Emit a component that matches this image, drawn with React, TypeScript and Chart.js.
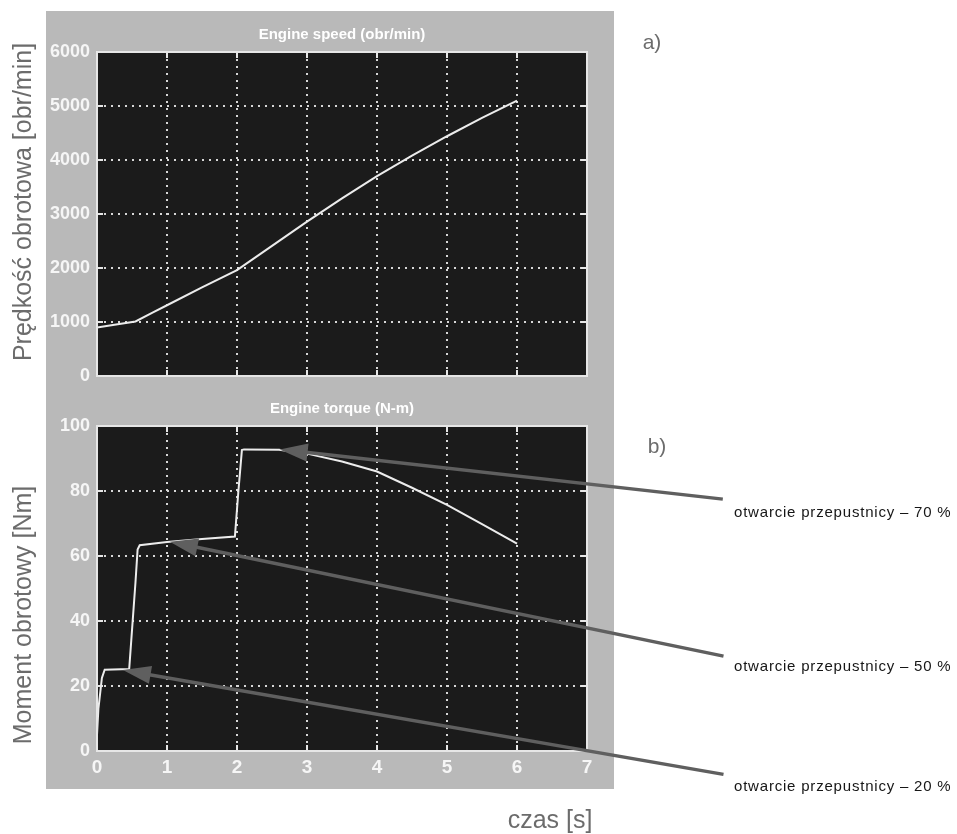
import React, { useEffect, useRef } from 'react';
import { Chart, registerables } from 'chart.js';

Chart.register(...registerables);

// ---- data ----
const speedTime = [0, 0.25, 0.55, 0.8, 1, 1.5, 2, 2.5, 3, 3.5, 4, 4.5, 5, 5.5, 6];
const speedRpm = [900, 950, 1010, 1180, 1310, 1640, 1960, 2410, 2860, 3290, 3700, 4080, 4440, 4780, 5100];

const torqueTime = [0, 0.02, 0.07, 0.11, 0.46, 0.55, 0.58, 0.61, 1, 1.5, 1.97, 2.02, 2.07, 2.1, 2.6, 3, 3.5, 4, 4.5, 5, 5.5, 6];
const torqueNm = [5, 13, 22.5, 25, 25.2, 52, 62, 63.3, 64.3, 65.2, 66, 80, 92.6, 92.8, 92.7, 91.5, 89.1, 86, 81, 75.7, 69.8, 63.8];

const timeTicks = [0, 1, 2, 3, 4, 5, 6, 7];
const speedTicks = [0, 1000, 2000, 3000, 4000, 5000, 6000];
const torqueTicks = [0, 20, 40, 60, 80, 100];

const speedTitle = 'Engine speed (obr/min)';
const torqueTitle = 'Engine torque (N-m)';
const speedAxisTitle = 'Prędkość obrotowa [obr/min]';
const torqueAxisTitle = 'Moment obrotowy [Nm]';
const timeAxisTitle = 'czas [s]';

const arrowLabels = ['otwarcie przepustnicy – 70 %', 'otwarcie przepustnicy – 50 %', 'otwarcie przepustnicy – 20 %'];
// arrow tips / tails in data units (time, torque)
const arrowTipX = [2.61, 1.04, 0.37];
const arrowTipY = [92.8, 64.4, 24.9];
const arrowTailX = [8.94, 8.95, 8.95];
const arrowTailY = [77.5, 29.2, -7.2];

// ---- styles ----
const FONT = "'Liberation Sans', Arial, sans-serif";
const PANEL = '#b9b9b9';
const PLOT_BG = '#1b1b1b';
const GRID = '#d8d8d8';
const LINE = '#ececec';
const FRAME = '#e6e6e6';
const ARROW = '#5f5f5f';
const GREY_TEXT = '#6c6c6c';

Chart.defaults.font.family = FONT;

const panelPlugin = {
  id: 'panel',
  beforeDraw(chart: any) {
    const { ctx } = chart;
    ctx.save();
    ctx.fillStyle = PANEL;
    ctx.fillRect(46, 11, 568, 778);
    ctx.restore();
  },
};

const framePlugin = {
  id: 'frame',
  beforeDraw(chart: any) {
    const { ctx, chartArea: a } = chart;
    ctx.save();
    ctx.fillStyle = PLOT_BG;
    ctx.fillRect(a.left, a.top, a.right - a.left, a.bottom - a.top);
    ctx.restore();
  },
  afterDraw(chart: any) {
    const { ctx, chartArea: a, scales } = chart;
    ctx.save();
    ctx.strokeStyle = FRAME;
    ctx.lineWidth = 2;
    ctx.strokeRect(a.left, a.top, a.right - a.left, a.bottom - a.top);
    const tl = 6;
    ctx.beginPath();
    scales.x.ticks.forEach((t: any) => {
      const px = scales.x.getPixelForValue(t.value);
      ctx.moveTo(px, a.bottom);
      ctx.lineTo(px, a.bottom - tl);
      ctx.moveTo(px, a.top);
      ctx.lineTo(px, a.top + tl);
    });
    scales.y.ticks.forEach((t: any) => {
      const py = scales.y.getPixelForValue(t.value);
      ctx.moveTo(a.left, py);
      ctx.lineTo(a.left + tl, py);
      ctx.moveTo(a.right, py);
      ctx.lineTo(a.right - tl, py);
    });
    ctx.stroke();
    ctx.restore();
  },
};

function textPlugin(items: { text: string; x: number; y: number; size: number; color: string; rot?: boolean; align?: string; spacing?: number }[]) {
  return {
    id: 'texts',
    afterDraw(chart: any) {
      const { ctx } = chart;
      items.forEach((it) => {
        ctx.save();
        ctx.font = `${it.size}px ${FONT}`;
        ctx.fillStyle = it.color;
        ctx.textBaseline = 'middle';
        ctx.textAlign = (it.align as CanvasTextAlign) || 'center';
        if (it.spacing) (ctx as any).letterSpacing = `${it.spacing}px`;
        ctx.translate(it.x, it.y);
        if (it.rot) ctx.rotate(-Math.PI / 2);
        ctx.fillText(it.text, 0, 0);
        ctx.restore();
      });
    },
  };
}

const arrowPlugin = {
  id: 'arrows',
  afterDraw(chart: any) {
    const { ctx, scales } = chart;
    ctx.save();
    ctx.strokeStyle = ARROW;
    ctx.fillStyle = ARROW;
    ctx.lineWidth = 3.5;
    for (let i = 0; i < arrowTipX.length; i++) {
      const px = scales.x.getPixelForValue(arrowTipX[i]);
      const py = scales.y.getPixelForValue(arrowTipY[i]);
      const qx = scales.x.getPixelForValue(arrowTailX[i]);
      const qy = scales.y.getPixelForValue(arrowTailY[i]);
      const dx = px - qx;
      const dy = py - qy;
      const len = Math.hypot(dx, dy);
      const ux = dx / len;
      const uy = dy / len;
      const L = 28;
      const W = 9;
      const bx = px - ux * L;
      const by = py - uy * L;
      ctx.beginPath();
      ctx.moveTo(qx, qy);
      ctx.lineTo(bx + ux * 4, by + uy * 4);
      ctx.stroke();
      ctx.beginPath();
      ctx.moveTo(px, py);
      ctx.lineTo(bx - uy * W, by + ux * W);
      ctx.lineTo(bx + uy * W, by - ux * W);
      ctx.closePath();
      ctx.fill();
    }
    ctx.restore();
  },
};

function makeScales(yTicks: number[], yMax: number, showX: boolean) {
  return {
    x: {
      type: 'linear' as const,
      min: 0,
      max: 7,
      afterBuildTicks: (s: any) => {
        s.ticks = timeTicks.map((v) => ({ value: v }));
      },
      afterFit: (s: any) => {
        s.height = showX ? 40 : 0;
      },
      ticks: {
        display: showX,
        autoSkip: false,
        maxRotation: 0,
        color: '#f6f6f6',
        padding: 5,
        font: { size: 19, weight: 'bold' as const },
        callback: (v: any) => String(v),
      },
      grid: { color: GRID, lineWidth: 2, drawTicks: false },
      border: { display: false, dash: [2, 5] },
    },
    y: {
      type: 'linear' as const,
      min: 0,
      max: yMax,
      afterBuildTicks: (s: any) => {
        s.ticks = yTicks.map((v) => ({ value: v }));
      },
      afterFit: (s: any) => {
        s.width = 97;
      },
      ticks: {
        autoSkip: false,
        color: '#f6f6f6',
        padding: 7,
        font: { size: 18, weight: 'bold' as const },
        callback: (v: any) => String(v),
      },
      grid: { color: GRID, lineWidth: 2, drawTicks: false },
      border: { display: false, dash: [2, 5] },
    },
  };
}

export default function App() {
  const topRef = useRef<HTMLCanvasElement>(null);
  const botRef = useRef<HTMLCanvasElement>(null);

  useEffect(() => {
    const top = new Chart(topRef.current!, {
      type: 'line',
      data: {
        datasets: [
          {
            data: speedTime.map((t, i) => ({ x: t, y: speedRpm[i] })),
            borderColor: LINE,
            borderWidth: 2,
            pointRadius: 0,
            tension: 0,
          },
        ],
      },
      options: {
        responsive: false,
        animation: false,
        events: [],
        layout: { padding: { left: 0, right: 370, top: 0, bottom: 458 } },
        plugins: {
          legend: { display: false },
          tooltip: { enabled: false },
          title: {
            display: true,
            text: speedTitle,
            color: '#ffffff',
            fullSize: false,
            font: { size: 15, weight: 'bold' },
            padding: { top: 26, bottom: 8 },
          },
        },
        scales: makeScales(speedTicks, 6000, false) as any,
      },
      plugins: [
        panelPlugin,
        framePlugin,
        textPlugin([
          { text: speedAxisTitle, x: 24, y: 202, size: 25, color: GREY_TEXT, rot: true },
          { text: 'a)', x: 652, y: 43, size: 21, color: GREY_TEXT },
        ]),
      ],
    });

    const bot = new Chart(botRef.current!, {
      type: 'line',
      data: {
        datasets: [
          {
            data: torqueTime.map((t, i) => ({ x: t, y: torqueNm[i] })),
            borderColor: LINE,
            borderWidth: 2,
            pointRadius: 0,
            tension: 0,
          },
        ],
      },
      options: {
        responsive: false,
        animation: false,
        events: [],
        layout: { padding: { left: 0, right: 370, top: 374, bottom: 43 } },
        plugins: {
          legend: { display: false },
          tooltip: { enabled: false },
          title: {
            display: true,
            text: torqueTitle,
            color: '#ffffff',
            fullSize: false,
            font: { size: 15, weight: 'bold' },
            padding: { top: 26, bottom: 8 },
          },
        },
        scales: makeScales(torqueTicks, 100, true) as any,
      },
      plugins: [
        framePlugin,
        arrowPlugin,
        textPlugin([
          { text: torqueAxisTitle, x: 24, y: 615, size: 25, color: GREY_TEXT, rot: true },
          { text: timeAxisTitle, x: 550, y: 821, size: 25, color: GREY_TEXT },
          { text: 'b)', x: 657, y: 447, size: 21, color: GREY_TEXT },
          { text: arrowLabels[0], x: 734, y: 513, size: 15, color: '#161616', align: 'left', spacing: 0.8 },
          { text: arrowLabels[1], x: 734, y: 667, size: 15, color: '#161616', align: 'left', spacing: 0.8 },
          { text: arrowLabels[2], x: 734, y: 787, size: 15, color: '#161616', align: 'left', spacing: 0.8 },
        ]),
      ],
    });

    return () => {
      top.destroy();
      bot.destroy();
    };
  }, []);

  const cv: React.CSSProperties = { position: 'absolute', left: 0, top: 0, width: 957, height: 834 };
  return (
    <div style={{ position: 'absolute', left: 0, top: 0, width: 957, height: 834, background: '#ffffff' }}>
      <canvas ref={topRef} width={957} height={834} style={cv} />
      <canvas ref={botRef} width={957} height={834} style={cv} />
    </div>
  );
}
